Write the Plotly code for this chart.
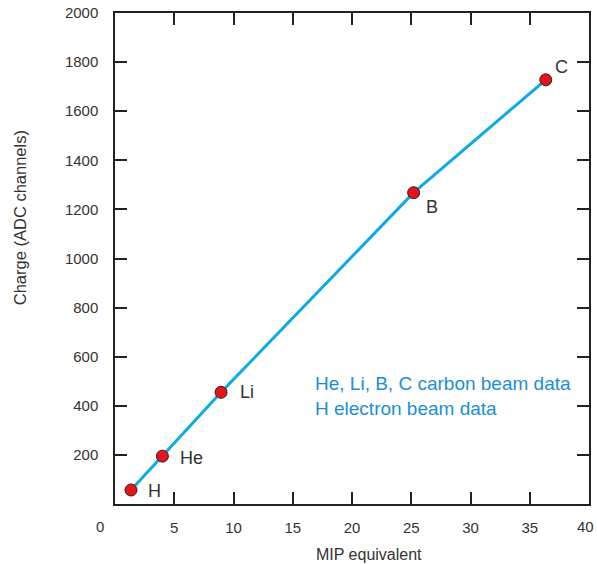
import plotly.graph_objects as go

# Data
elements = ["H", "He", "Li", "B", "C"]
mip = [1.35, 4.0, 8.95, 25.2, 36.35]
charge = [57, 195, 455, 1268, 1728]

x_ticks = [5, 10, 15, 20, 25, 30, 35]
y_ticks = [200, 400, 600, 800, 1000, 1200, 1400, 1600, 1800, 2000]

label_offsets = {"H": (23, -1), "He": (29, -2), "Li": (26, 0), "B": (18, -14), "C": (16, 13)}

FONT = "Liberation Sans, Arial, Helvetica, sans-serif"
TXT = "#333333"

fig = go.Figure()
fig.add_trace(go.Scatter(
    x=mip, y=charge, mode="lines+markers",
    line=dict(color="#0eaae6", width=3),
    marker=dict(size=12, color="#e3141c", line=dict(color="#3a1a1a", width=1)),
    showlegend=False, hoverinfo="skip",
))

for e, xv, yv in zip(elements, mip, charge):
    dx, dy = label_offsets[e]
    fig.add_annotation(x=xv, y=yv, text=e, showarrow=False, xshift=dx, yshift=dy,
                       font=dict(family=FONT, size=18, color=TXT))

fig.add_annotation(xref="paper", yref="paper", x=0.418, y=0.17, xanchor="left", yanchor="bottom",
                   text="He, Li, B, C carbon beam data<br>H electron beam data", align="left",
                   showarrow=False, font=dict(family=FONT, size=19, color="#1a8ed6"))

# end tick labels placed just off the axis corners, as in the original
fig.add_annotation(xref="paper", yref="paper", x=0, y=0, xshift=-15.5, yshift=-22,
                   xanchor="center", yanchor="middle",
                   text="0", showarrow=False, font=dict(family=FONT, size=15, color=TXT))
fig.add_annotation(xref="paper", yref="paper", x=1, y=0, xshift=-4, yshift=-22,
                   xanchor="center", yanchor="middle",
                   text="40", showarrow=False, font=dict(family=FONT, size=15, color=TXT))

# axis titles
fig.add_annotation(xref="paper", yref="paper", x=0.5356, y=0, yshift=-61,
                   xanchor="center", yanchor="bottom",
                   text="MIP equivalent", showarrow=False, font=dict(family=FONT, size=16, color=TXT))
fig.add_annotation(xref="paper", yref="paper", x=0, xshift=-95, y=0.582, textangle=-90,
                   xanchor="center", yanchor="middle",
                   text="Charge (ADC channels)", showarrow=False, font=dict(family=FONT, size=16.5, color=TXT))

axis_common = dict(showgrid=False, zeroline=False, showline=True, linecolor="#222222", linewidth=1.5,
                   mirror="allticks", ticks="inside", ticklen=12, tickwidth=1.5, tickcolor="#222222",
                   automargin=False, tickfont=dict(family=FONT, size=15, color=TXT))

fig.update_xaxes(range=[0, 40], tickvals=x_ticks, ticklabelstandoff=9, **axis_common)
fig.update_yaxes(range=[0, 2000], tickvals=y_ticks, ticklabelstandoff=12, **axis_common)

fig.update_layout(template="none", width=597, height=564, margin=dict(l=115, r=7.5, t=13, b=60),
                  plot_bgcolor="white", paper_bgcolor="white")

fig.write_html("out.html", config={"displayModeBar": False},
               post_script="document.body.style.margin='0';document.body.style.overflow='hidden';")
